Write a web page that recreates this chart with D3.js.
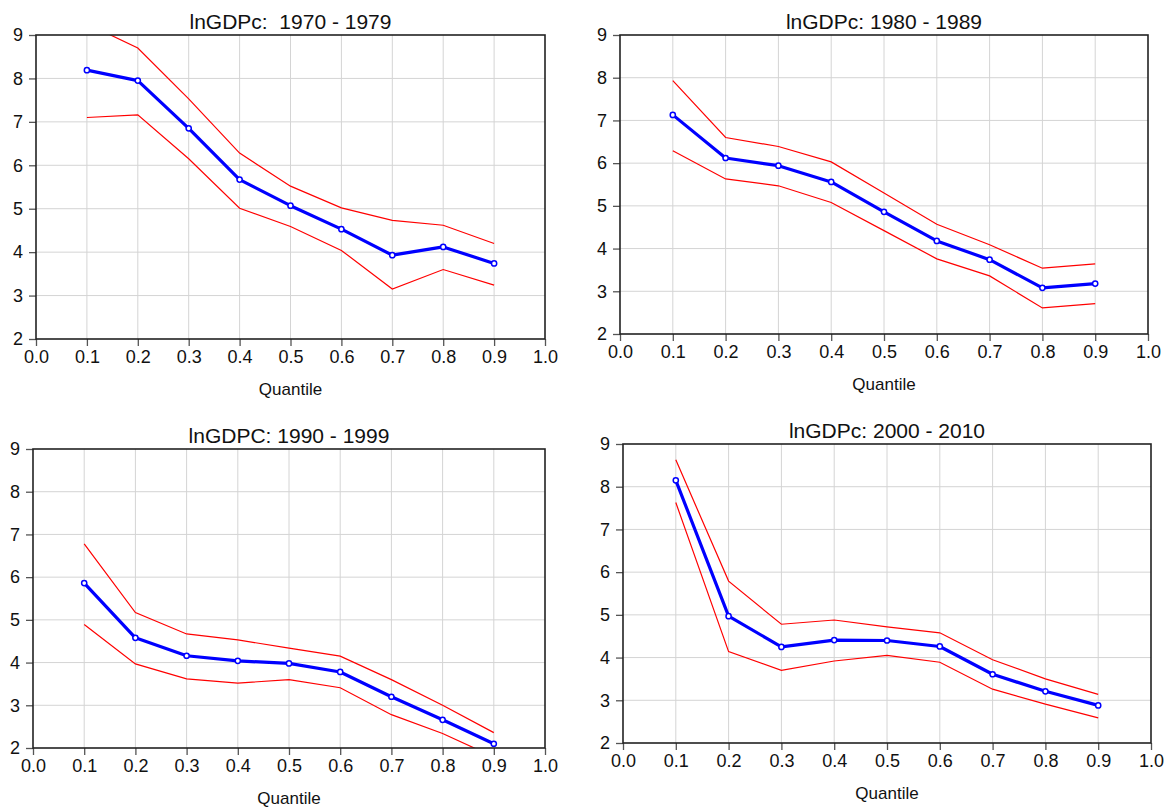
<!DOCTYPE html>
<html>
<head>
<meta charset="utf-8">
<script src="https://cdn.jsdelivr.net/npm/d3@7"></script>
<style>
  body { margin: 0; background: #fff; }
  svg text { font-family: "Liberation Sans", Arial, sans-serif; fill: #111; }
</style>
</head>
<body>
<div id="chart"></div>
<script>
// quantile grid shared by all four panels
const quantiles = [0.1, 0.2, 0.3, 0.4, 0.5, 0.6, 0.7, 0.8, 0.9];
const xTicks = [0, 0.1, 0.2, 0.3, 0.4, 0.5, 0.6, 0.7, 0.8, 0.9, 1.0];
const yTicks = [2, 3, 4, 5, 6, 7, 8, 9];
const titles = ["lnGDPc:  1970 - 1979", "lnGDPc: 1980 - 1989", "lnGDPC: 1990 - 1999", "lnGDPc: 2000 - 2010"];

// coefficient estimates (blue) and confidence bounds (red)
const est70s = [8.19, 7.95, 6.85, 5.67, 5.07, 4.53, 3.93, 4.12, 3.74];
const upper70s = [9.26, 8.70, 7.53, 6.28, 5.52, 5.02, 4.73, 4.62, 4.20];
const lower70s = [7.10, 7.16, 6.15, 5.01, 4.59, 4.04, 3.15, 3.60, 3.24];

const est80s = [7.13, 6.12, 5.94, 5.56, 4.86, 4.18, 3.74, 3.08, 3.18];
const upper80s = [7.93, 6.60, 6.39, 6.03, 5.30, 4.57, 4.09, 3.54, 3.64];
const lower80s = [6.29, 5.63, 5.47, 5.08, 4.42, 3.76, 3.36, 2.61, 2.71];

const est90s = [5.86, 4.58, 4.16, 4.04, 3.98, 3.78, 3.20, 2.66, 2.10];
const upper90s = [6.78, 5.17, 4.67, 4.53, 4.34, 4.15, 3.60, 3.00, 2.36];
const lower90s = [4.89, 3.97, 3.62, 3.52, 3.60, 3.41, 2.78, 2.34, 1.79];

const est00s = [8.15, 4.97, 4.25, 4.41, 4.40, 4.26, 3.61, 3.21, 2.88];
const upper00s = [8.63, 5.79, 4.78, 4.88, 4.72, 4.58, 3.95, 3.50, 3.14];
const lower00s = [7.63, 4.14, 3.70, 3.92, 4.05, 3.89, 3.26, 2.91, 2.59];

const panelData = [
    {est: est70s, upper: upper70s, lower: lower70s},
    {est: est80s, upper: upper80s, lower: lower80s},
    {est: est90s, upper: upper90s, lower: lower90s},
    {est: est00s, upper: upper00s, lower: lower00s}
];

// plot rectangles of each panel (page pixels)
const frames = [
    {left: 36, top: 35, right: 545, bottom: 339},
    {left: 620, top: 35, right: 1148, bottom: 334},
    {left: 33, top: 449, right: 545, bottom: 748},
    {left: 623, top: 444, right: 1151, bottom: 743}
];

const svg = d3.select("#chart").append("svg")
    .attr("width", 1169)
    .attr("height", 810);

frames.forEach(function (f, i) {
    let w = f.right - f.left;
    let h = f.bottom - f.top;
    let d = panelData[i];

    let x = d3.scaleLinear().domain([0, 1]).range([0, w]);
    let y = d3.scaleLinear().domain([2, 9]).range([h, 0]);

    let g = svg.append("g").attr("transform", `translate(${f.left}, ${f.top})`);

    g.append("clipPath").attr("id", "clip" + i)
        .append("rect").attr("width", w).attr("height", h);

    // grid
    g.selectAll(".vgrid").data(xTicks.slice(1, -1)).enter()
        .append("line").attr("class", "vgrid")
        .attr("x1", t => x(t)).attr("x2", t => x(t))
        .attr("y1", 0).attr("y2", h)
        .attr("stroke", "#d4d4d4").attr("stroke-width", 1);
    g.selectAll(".hgrid").data(yTicks.slice(1, -1)).enter()
        .append("line").attr("class", "hgrid")
        .attr("x1", 0).attr("x2", w)
        .attr("y1", t => y(t)).attr("y2", t => y(t))
        .attr("stroke", "#d4d4d4").attr("stroke-width", 1);

    // axes
    let xAxis = g.append("g")
        .attr("transform", `translate(0, ${h})`)
        .call(d3.axisBottom(x).tickValues(xTicks).tickFormat(d3.format(".1f")).tickSize(7).tickPadding(4));
    let yAxis = g.append("g")
        .call(d3.axisLeft(y).tickValues(yTicks).tickFormat(d3.format("d")).tickSize(7).tickPadding(6));
    [xAxis, yAxis].forEach(function (a) {
        a.select(".domain").remove();
        a.selectAll("line").attr("stroke", "#555").attr("stroke-width", 1.3);
        a.selectAll("text").attr("font-size", 18).attr("fill", "#111")
            .style("font-family", "'Liberation Sans', Arial, sans-serif");
    });

    // lines
    let line = d3.line()
        .x((v, k) => x(quantiles[k]))
        .y(v => y(v));

    let plot = g.append("g").attr("clip-path", `url(#clip${i})`);
    [d.upper, d.lower].forEach(function (s) {
        plot.append("path").datum(s)
            .attr("d", line)
            .attr("fill", "none")
            .attr("stroke", "#ff0000")
            .attr("stroke-width", 1.2);
    });
    plot.append("path").datum(d.est)
        .attr("d", line)
        .attr("fill", "none")
        .attr("stroke", "#0000ff")
        .attr("stroke-width", 3.2)
        .attr("stroke-linejoin", "round");

    g.selectAll(".pt").data(d.est).enter()
        .append("circle").attr("class", "pt")
        .attr("cx", (v, k) => x(quantiles[k]))
        .attr("cy", v => y(v))
        .attr("r", 2.6)
        .attr("fill", "#fff")
        .attr("stroke", "#0000ff")
        .attr("stroke-width", 1.5);

    // frame
    g.append("rect")
        .attr("width", w).attr("height", h)
        .attr("fill", "none")
        .attr("stroke", "#222")
        .attr("stroke-width", 1.6);

    // title and axis label
    g.append("text")
        .attr("x", w / 2).attr("y", -6)
        .attr("text-anchor", "middle")
        .attr("font-size", 21)
        .style("white-space", "pre")
        .text(titles[i]);

    g.append("text")
        .attr("x", w / 2).attr("y", h + 56)
        .attr("text-anchor", "middle")
        .attr("font-size", 17)
        .text("Quantile");
});
</script>
</body>
</html>
